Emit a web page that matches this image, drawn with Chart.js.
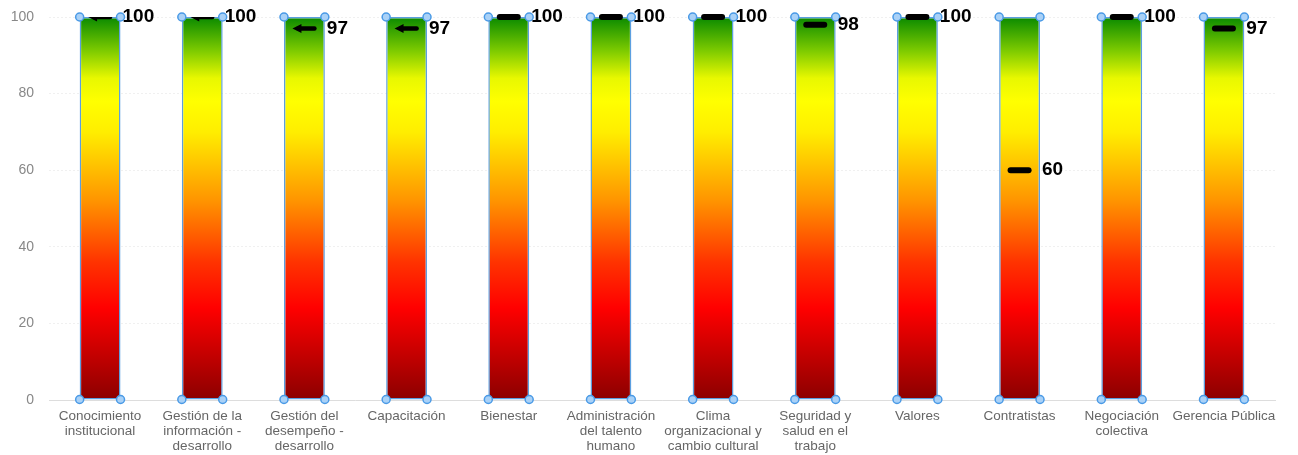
<!DOCTYPE html>
<html>
<head>
<meta charset="utf-8">
<script src="https://cdn.jsdelivr.net/npm/chart.js@4.4.1/dist/chart.umd.min.js"></script>
<style>
html,body{margin:0;padding:0;background:#fff;}
#wrap{width:1298px;height:455px;position:relative;}
</style>
</head>
<body>
<div id="wrap"><canvas id="c"></canvas></div>
<script>
const categories = [
  ["Conocimiento","institucional"],
  ["Gestión de la","información -","desarrollo"],
  ["Gestión del","desempeño -","desarrollo"],
  "Capacitación",
  "Bienestar",
  ["Administración","del talento","humano"],
  ["Clima","organizacional y","cambio cultural"],
  ["Seguridad y","salud en el","trabajo"],
  "Valores",
  "Contratistas",
  ["Negociación","colectiva"],
  "Gerencia Pública"
];
const scaleMax = [100,100,100,100,100,100,100,100,100,100,100,100];
const values = [100,100,97,97,100,100,100,98,100,60,100,97];
const markerTypes = ["arrow","arrow","arrow","arrow","dash","dash","dash","dash","dash","dash","dash","dash"];
const yTicks = [0,20,40,60,80,100];

const FONT = "'Liberation Sans', Arial, sans-serif";

function gradientFill(ctx){
  const chart = ctx.chart;
  const a = chart.chartArea;
  if(!a) return '#ff0';
  const y0 = chart.scales.y.getPixelForValue(0);
  const y1 = chart.scales.y.getPixelForValue(100);
  const g = chart.ctx.createLinearGradient(0, y0, 0, y1);
  g.addColorStop(0, '#8b0000');
  g.addColorStop(0.24, '#ff0000');
  g.addColorStop(0.36, '#ff3300');
  g.addColorStop(0.52, '#ff9400');
  g.addColorStop(0.70, '#ffee00');
  g.addColorStop(0.78, '#ffff00');
  g.addColorStop(0.84, '#e8f800');
  g.addColorStop(0.91, '#80cc00');
  g.addColorStop(1, '#0a8a00');
  return g;
}

const overlay = {
  id: 'overlay',
  afterDatasetsDraw(chart){
    const ctx = chart.ctx;
    const meta = chart.getDatasetMeta(0);
    const ys = chart.scales.y;
    const area = chart.chartArea;
    meta.data.forEach((bar, i) => {
      const half = bar.width / 2;
      const left = bar.x - half, right = bar.x + half;
      const top = bar.y, bottom = bar.base;
      const vy = ys.getPixelForValue(values[i]);
      // marker
      ctx.save();
      ctx.fillStyle = '#000';
      ctx.strokeStyle = '#000';
      if (markerTypes[i] === 'arrow') {
        ctx.beginPath();
        ctx.rect(left, area.top, bar.width, area.bottom - area.top);
        ctx.clip();
        ctx.lineWidth = 4.5;
        ctx.lineCap = 'round';
        ctx.beginPath();
        ctx.moveTo(bar.x - 6, vy);
        ctx.lineTo(bar.x + 10, vy);
        ctx.stroke();
        ctx.beginPath();
        ctx.moveTo(bar.x - 12, vy);
        ctx.lineTo(bar.x - 3, vy - 4.5);
        ctx.lineTo(bar.x - 3, vy + 4.5);
        ctx.closePath();
        ctx.fill();
      } else {
        ctx.lineWidth = 6;
        ctx.lineCap = 'round';
        ctx.beginPath();
        ctx.moveTo(bar.x - 9, vy);
        ctx.lineTo(bar.x + 9, vy);
        ctx.stroke();
      }
      ctx.restore();
      // corner circles
      ctx.save();
      ctx.lineWidth = 1.5;
      ctx.strokeStyle = '#4a9ae6';
      ctx.fillStyle = '#a9d1f7';
      [[left,top],[right,top],[left,bottom],[right,bottom]].forEach(p => {
        ctx.beginPath();
        ctx.arc(p[0], p[1], 4, 0, Math.PI*2);
        ctx.fill();
        ctx.stroke();
      });
      ctx.restore();
      // value label
      ctx.save();
      ctx.font = "bold 19px " + FONT;
      ctx.fillStyle = '#000';
      ctx.textAlign = 'left';
      ctx.textBaseline = 'middle';
      ctx.fillText(String(values[i]), right + 2, vy);
      ctx.restore();
    });
  }
};

new Chart(document.getElementById('c'), {
  type: 'bar',
  data: {
    labels: categories,
    datasets: [{
      data: scaleMax,
      backgroundColor: gradientFill,
      borderColor: '#5b9fe0',
      borderWidth: 1.5,
      borderSkipped: false,
      barPercentage: 0.4,
      categoryPercentage: 1.0
    }]
  },
  options: {
    responsive: true,
    maintainAspectRatio: false,
    animation: false,
    layout: { padding: { top: 17, right: 23, left: 0, bottom: 0 } },
    plugins: { legend: { display: false }, tooltip: { enabled: false } },
    scales: {
      x: {
        grid: { display: false, drawTicks: false },
        border: { display: true, color: '#dddddd' },
        ticks: { color: '#666', font: { family: FONT, size: 13.5, lineHeight: 1.11 }, maxRotation: 0, autoSkip: false, padding: 9 },
        afterFit(scale){ scale.height = 55; }
      },
      y: {
        min: 0, max: 100,
        afterBuildTicks(scale){ scale.ticks = yTicks.map(v => ({value: v})); },
        grid: { color: '#f0f0f0', drawTicks: false },
        border: { display: false, dash: [2,2] },
        ticks: { color: '#888', font: { family: FONT, size: 14 }, padding: 15 },
        afterFit(scale){ scale.width = 49; scale.paddingTop = 0; scale.paddingBottom = 0; }
      }
    }
  },
  plugins: [overlay]
});
</script>
</body>
</html>
